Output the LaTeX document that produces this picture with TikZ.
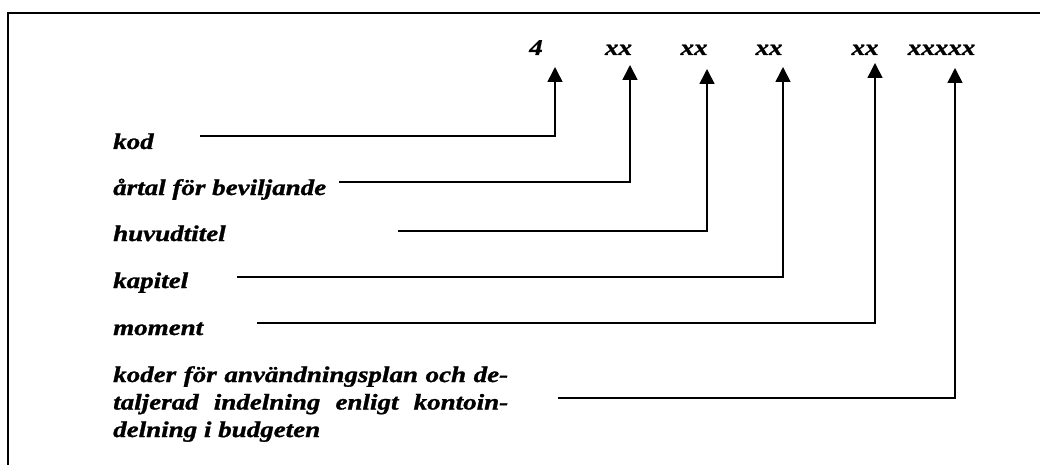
\documentclass[tikz,border=0pt]{standalone}
\usepackage{fontspec}
\usepackage{tikz}
\usetikzlibrary{arrows.meta}
\newfontfamily\lblfont[FakeStretch=1.2,FakeBold=1.2]{Liberation Serif}

\begin{document}
\begin{tikzpicture}[x=1pt,y=-1pt]
                        \tikzstyle{lbl}=[inner sep=0pt, font=\lblfont\bfseries\itshape\fontsize{22.5}{27.5}\selectfont]
                        \tikzstyle{codepos}=[lbl, anchor=base]
                        \tikzstyle{txt}=[lbl, anchor=base west]
                        \tikzstyle{conn}=[line width=1.6pt, -{Triangle[length=15pt,width=15pt]}]
                        \useasboundingbox (0,0) rectangle (1040,465);
                        \draw[line width=1.8pt] (8,465) -- (8,13) -- (1041,13);
                        \node[codepos] (d4) at (536,55) {4};
                        \node[codepos] (yr) at (618.5,55) {xx};
                        \node[codepos] (ht) at (694,55) {xx};
                        \node[codepos] (kap) at (769,55) {xx};
                        \node[codepos] (mom) at (865,55) {xx};
                        \node[codepos] (kon) at (941.5,55) {xxxxx};
                        \node[txt] (lkod) at (113,149) {kod};
                        \node[txt] (lyr) at (113,195) {årtal för beviljande};
                        \node[txt] (lht) at (113,241) {huvudtitel};
                        \node[txt] (lkap) at (113,288) {kapitel};
                        \node[txt] (lmom) at (113,335) {moment};
                        \node[lbl, anchor=north west, text width=395pt, align=justify] (lkon) at (113,366)
                            {\hyphenpenalty=10000 koder för användningsplan och de-\linebreak
                             taljerad indelning enligt kontoin-\linebreak
                             delning i budgeten};
                        \coordinate (s1) at (200,136);
                        \coordinate (s2) at (339,182);
                        \coordinate (s3) at (398,231);
                        \coordinate (s4) at (237,277);
                        \coordinate (s5) at (257,323);
                        \coordinate (s6) at (558,398);
                        \coordinate (t1) at (555,67);
                        \coordinate (t2) at (630,65);
                        \coordinate (t3) at (707,69);
                        \coordinate (t4) at (783,67);
                        \coordinate (t5) at (875,63);
                        \coordinate (t6) at (955,68);
                        \draw[conn] (s1) -| (t1);
                        \draw[conn] (s2) -| (t2);
                        \draw[conn] (s3) -| (t3);
                        \draw[conn] (s4) -| (t4);
                        \draw[conn] (s5) -| (t5);
                        \draw[conn] (s6) -| (t6);
                    \end{tikzpicture}
\end{document}
